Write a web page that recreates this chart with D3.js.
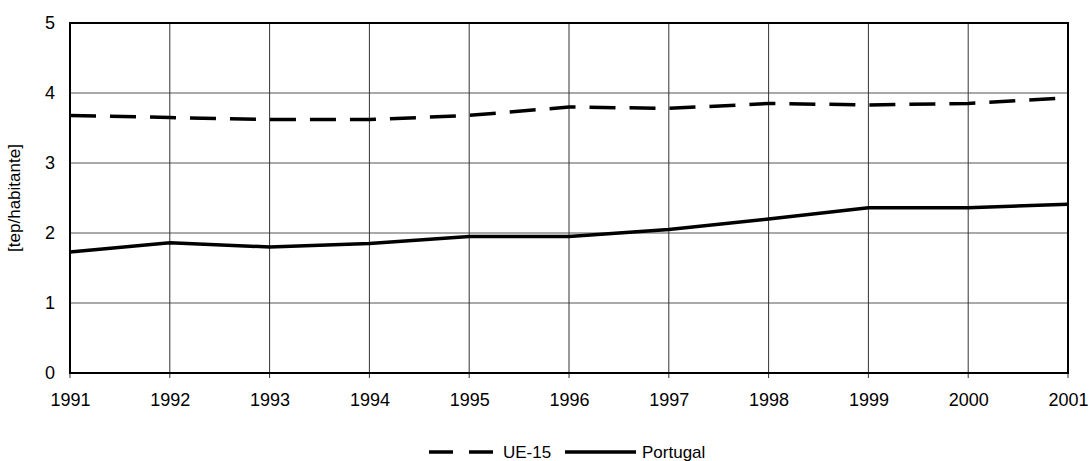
<!DOCTYPE html>
<html>
<head>
<meta charset="utf-8">
<script src="https://cdn.jsdelivr.net/npm/d3@7"></script>
<style>
body { margin: 0; background: #fff; }
text { font-family: "Liberation Sans", Arial, sans-serif; fill: #000; }
</style>
</head>
<body>
<div id="vis"></div>
<script>
var years = [1991, 1992, 1993, 1994, 1995, 1996, 1997, 1998, 1999, 2000, 2001];
var ue15 = [3.68, 3.65, 3.62, 3.62, 3.68, 3.80, 3.78, 3.85, 3.83, 3.85, 3.93];
var portugal = [1.73, 1.86, 1.80, 1.85, 1.95, 1.95, 2.05, 2.20, 2.36, 2.36, 2.41];
var yTicks = [0, 1, 2, 3, 4, 5];

var width = 1090, height = 461;
var margin = { top: 23, right: 22, bottom: 88, left: 70 };
var w = width - margin.left - margin.right;
var h = height - margin.top - margin.bottom;

var svg = d3.select('#vis').append('svg').attr('width', width).attr('height', height);
var g = svg.append('g').attr('transform', 'translate(' + margin.left + ',' + margin.top + ')');

var x = d3.scaleLinear().domain([1991, 2001]).range([0, w]);
var y = d3.scaleLinear().domain([0, 5]).range([h, 0]);

// grid
g.selectAll('.hgrid').data(yTicks).enter().append('line')
	.attr('x1', 0).attr('x2', w)
	.attr('y1', function(d) { return y(d); }).attr('y2', function(d) { return y(d); })
	.attr('stroke', '#555').attr('stroke-width', 1);
g.selectAll('.vgrid').data(years).enter().append('line')
	.attr('x1', function(d) { return x(d); }).attr('x2', function(d) { return x(d); })
	.attr('y1', 0).attr('y2', h + 5)
	.attr('stroke', '#333').attr('stroke-width', 1);

// axes labels
var xAxis = d3.axisBottom(x).tickValues(years).tickFormat(d3.format('d')).tickSize(0).tickPadding(20);
var yAxis = d3.axisLeft(y).tickValues(yTicks).tickFormat(d3.format('d')).tickSize(0).tickPadding(15);
var gx = g.append('g').attr('transform', 'translate(0,' + h + ')').call(xAxis);
var gy = g.append('g').call(yAxis);
[gx, gy].forEach(function(a) {
	a.select('.domain').remove();
	a.selectAll('text').attr('font-size', 18).attr('font-family', '"Liberation Sans", Arial, sans-serif').attr('fill', '#000');
});

// border
g.append('rect').attr('x', 0).attr('y', 0).attr('width', w).attr('height', h)
	.attr('fill', 'none').attr('stroke', '#000').attr('stroke-width', 2);

var line = d3.line().x(function(d, i) { return x(years[i]); }).y(function(d) { return y(d); });

g.append('path').datum(ue15).attr('d', line).attr('fill', 'none')
	.attr('stroke', '#000').attr('stroke-width', 3.5).attr('stroke-dasharray', '26,14');
g.append('path').datum(portugal).attr('d', line).attr('fill', 'none')
	.attr('stroke', '#000').attr('stroke-width', 3.5);

// y title
svg.append('text').attr('transform', 'translate(20,' + (margin.top + h / 2) + ') rotate(-90)')
	.attr('text-anchor', 'middle').attr('font-size', 17).text('[tep/habitante]');

// legend
var ly = 452;
svg.append('line').attr('x1', 429).attr('x2', 493).attr('y1', ly).attr('y2', ly)
	.attr('stroke', '#000').attr('stroke-width', 3.5).attr('stroke-dasharray', '24,16');
svg.append('text').attr('x', 503).attr('y', ly + 6).attr('font-size', 17).text('UE-15');
svg.append('line').attr('x1', 565).attr('x2', 636).attr('y1', ly).attr('y2', ly)
	.attr('stroke', '#000').attr('stroke-width', 3.5);
svg.append('text').attr('x', 642).attr('y', ly + 6).attr('font-size', 17).text('Portugal');
</script>
</body>
</html>
